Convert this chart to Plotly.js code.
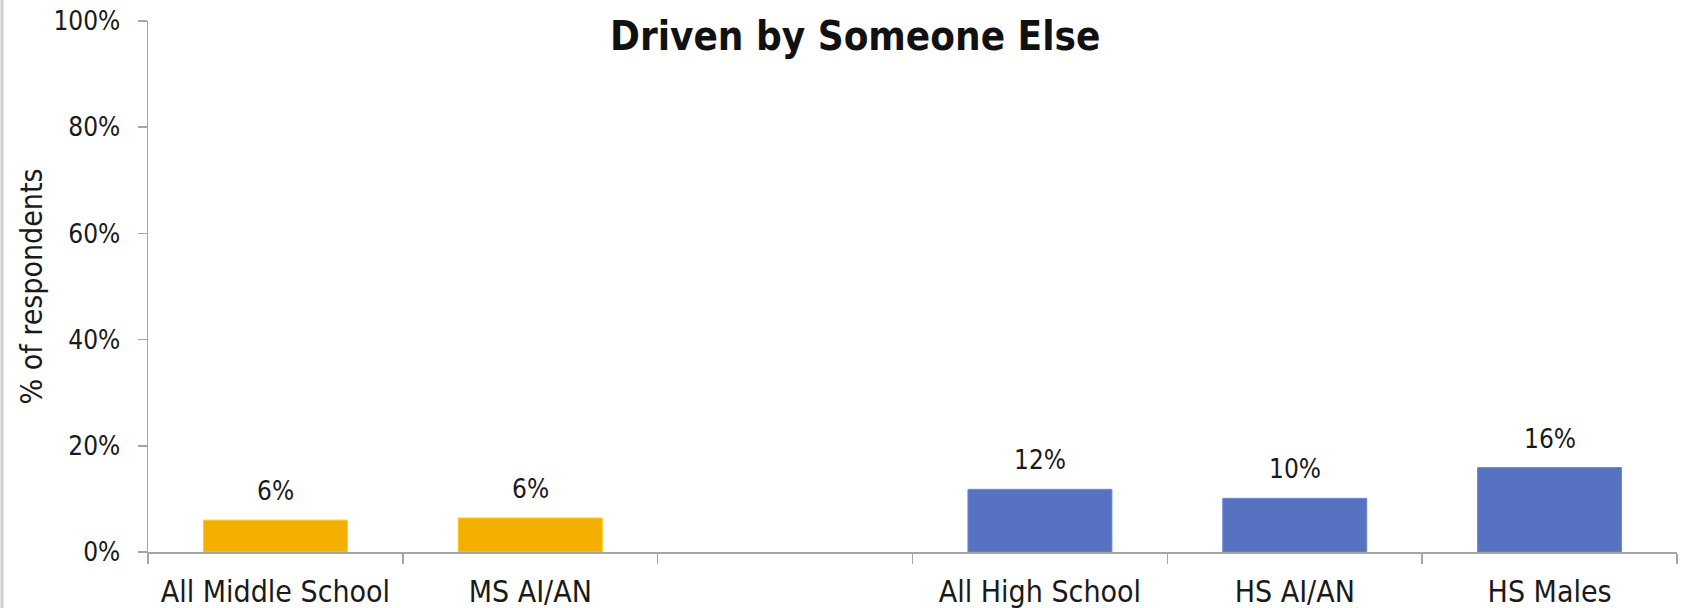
<!DOCTYPE html>
<html>
<head>
<meta charset="utf-8">
<script src="https://cdn.plot.ly/plotly-3.0.1.min.js"></script>
<style>
html,body{margin:0;padding:0;background:#fff;}
#chart{width:1683px;height:608px;}
</style>
</head>
<body>
<div id="chart"></div>
<script>
// Data
var categories = ["All Middle School", "MS AI/AN", " ", "All High School", "HS AI/AN", "HS Males"];
var msValues = [6.0, 6.4, null, null, null, null];
var hsValues = [null, null, null, 11.8, 10.1, 15.9];
var msLabels = ["6%", "6%", "", "", "", ""];
var hsLabels = ["", "", "", "12%", "10%", "16%"];
var yTickVals = [0, 20, 40, 60, 80, 100];
var yTickText = ["0%", "20%", "40%", "60%", "80%", "100%"];
var titleText = "<b>Driven by Someone Else</b>";
var yTitle = "% of respondents";

var FONT = "DejaVu Sans Condensed, Tahoma, sans-serif";

var traces = [
  {
    type: "bar", x: categories, y: msValues,
    marker: {color: "#F4B000", line: {color: "#FFC81A", width: 1}},
    hoverinfo: "skip", showlegend: false
  },
  {
    type: "bar", x: categories, y: hsValues,
    marker: {color: "#5672C0", line: {color: "#6D8AD6", width: 1}},
    hoverinfo: "skip", showlegend: false
  }
];

// value labels above bars, built from the data arrays
var annotations = [];
function addLabels(vals, labels) {
  for (var i = 0; i < categories.length; i++) {
    if (vals[i] === null || !labels[i]) continue;
    annotations.push({
      x: categories[i], y: vals[i], xref: "x", yref: "y",
      text: labels[i], showarrow: false, yanchor: "middle", yshift: 29,
      font: {family: FONT, size: 26, color: "#1a1a1a"}
    });
  }
}
addLabels(msValues, msLabels);
addLabels(hsValues, hsLabels);
annotations.push({
  text: titleText, xref: "paper", yref: "paper",
  x: (855 - 148) / 1529, y: 0.972, xanchor: "center", yanchor: "middle",
  showarrow: false, font: {family: FONT, size: 40, color: "#111111"}
});

var layout = {
  width: 1683, height: 608,
  margin: {l: 148, r: 6, t: 21, b: 56, pad: 0},
  paper_bgcolor: "#ffffff", plot_bgcolor: "#ffffff",
  barmode: "overlay",
  bargap: 0.435,
  font: {family: FONT, color: "#1a1a1a"},
  xaxis: {
    type: "category",
    tickson: "boundaries",
    ticks: "outside", ticklen: 10, tickcolor: "#A6A6A6", tickwidth: 1.5,
    showline: true, linecolor: "#A6A6A6", linewidth: 1.5,
    showgrid: false, zeroline: false,
    tickfont: {family: FONT, size: 30, color: "#1a1a1a"},
    ticklabelstandoff: 12
  },
  yaxis: {
    range: [0, 100],
    tickvals: yTickVals, ticktext: yTickText,
    ticks: "outside", ticklen: 9, tickcolor: "#A6A6A6", tickwidth: 1.5,
    showline: true, linecolor: "#A6A6A6", linewidth: 1.5,
    showgrid: false, zeroline: false,
    tickfont: {family: FONT, size: 26, color: "#1a1a1a"},
    ticklabelstandoff: 12,
    title: {text: yTitle, font: {family: FONT, size: 30, color: "#1a1a1a"}, standoff: 2}
  },
  annotations: annotations,
  shapes: [
    {type: "line", xref: "paper", yref: "paper", x0: -146/1529, x1: -146/1529, y0: -56/531, y1: 1 + 21/531,
     line: {color: "#D0D0D0", width: 3}}
  ]
};

Plotly.newPlot("chart", traces, layout, {staticPlot: true, displayModeBar: false});
</script>
</body>
</html>
